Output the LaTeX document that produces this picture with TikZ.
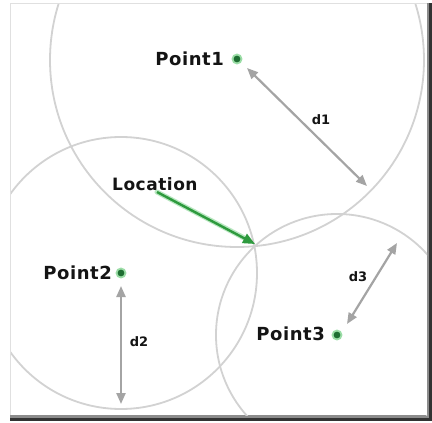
\documentclass[tikz,border=0pt]{standalone}
\usepackage{fontspec}
\setmainfont{DejaVu Sans}
\newfontfamily\lblfont[LetterSpace=3]{DejaVu Sans}
\usetikzlibrary{arrows.meta}
\definecolor{circ}{HTML}{D2D2D2}
\definecolor{arr}{HTML}{A4A4A4}
\definecolor{dotg}{HTML}{1E6E32}
\definecolor{halo}{HTML}{9BDDA6}
\definecolor{locg}{HTML}{2E9A3E}
\tikzset{
  ring/.style={draw=circ, line width=1.8pt},
  dist/.style={draw=arr, line width=2.2pt, {Triangle[length=11pt,width=9pt]}-{Triangle[length=11pt,width=9pt]}},
  ptlabel/.style={font=\lblfont\bfseries\fontsize{18}{18}\selectfont, inner sep=0pt, text=black!92},
  dlabel/.style={font=\bfseries\fontsize{13}{13}\selectfont, inner sep=0pt, text=black!92},
  dot/.style={circle, fill=dotg, draw=halo, line width=1.8pt, minimum size=9pt, inner sep=0pt},
}
\begin{document}
\begin{tikzpicture}[x=1pt,y=-1pt]
\useasboundingbox (0,0) rectangle (432,423);
\fill[white] (0,0) rectangle (432,423);
% frame with shadow
\fill[black!80] (10,3) rectangle (432,421);
\fill[black!45] (10,3) rectangle (429,418);
\fill[white] (10,3) rectangle (427,415);
\draw[black!12, line width=1pt] (10.5,415) -- (10.5,3.5) -- (427,3.5);
\begin{scope}
\clip (11,4) rectangle (427,415);
\draw[ring] (237,60) circle[radius=187];
\draw[ring] (121,273) circle[radius=136];
\draw[ring] (337,335) circle[radius=121];
\end{scope}
% points
\node[dot] (p1) at (237,59) {};
\node[dot] (p2) at (121,273) {};
\node[dot] (p3) at (337,335) {};
\node[ptlabel, anchor=east] (l1) at (224,59) {Point1};
\node[ptlabel, anchor=east] (l2) at (112,273) {Point2};
\node[ptlabel, anchor=east] (l3) at (325,334) {Point3};
\node[ptlabel, font=\lblfont\bfseries\fontsize{17}{17}\selectfont, anchor=west] (loc) at (112,184) {Location};
% distance arrows
\coordinate (a1) at (247,68);
\coordinate (b1) at (367,186);
\coordinate (a2) at (121,286);
\coordinate (b2) at (121,404);
\coordinate (a3) at (397,243);
\coordinate (b3) at (347,324);
\draw[dist] (a1) -- (b1);
\draw[dist] (a2) -- (b2);
\draw[dist] (a3) -- (b3);
\node[dlabel] (d1) at (321,120) {d1};
\node[dlabel] (d2) at (139,342) {d2};
\node[dlabel] (d3) at (358,277) {d3};
% location arrow
\coordinate (lt) at (255,244);
\draw[halo!70, line width=5pt, line cap=round] (157,192) -- (248,240);
\draw[locg, line width=2.4pt, -{Triangle[length=12pt,width=10pt]}] (157,192) -- (lt);
\end{tikzpicture}
\end{document}
